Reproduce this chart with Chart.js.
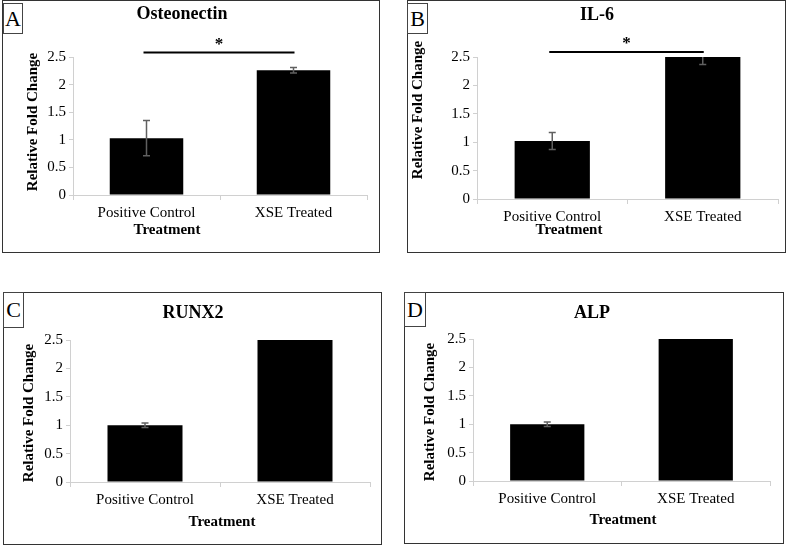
<!DOCTYPE html>
<html lang="en">
<head>
    <meta charset="UTF-8">
    <title>Relative Fold Change</title>
    <script src="https://cdn.jsdelivr.net/npm/chart.js"></script>
    <style>
        body {
            margin: 0;
            padding: 0;
            background: #fff;
            font-family: 'Liberation Serif', serif;
        }
        #page {
            position: relative;
            width: 787px;
            height: 546px;
            overflow: hidden;
        }
        canvas, .frame, .letter {
            position: absolute;
        }
        .frame {
            box-sizing: border-box;
            border: 1px solid #333;
            pointer-events: none;
        }
        .letter {
            box-sizing: border-box;
            border: 1px solid #444;
            background: #fff;
            font-size: 22px;
            line-height: 30px;
            text-align: center;
            color: #000;
        }
    </style>
</head>
<body>
    <div id="page"></div>
    <script>
        const categories = ['Positive Control', 'XSE Treated'];
        const yTickLabels = ['0', '0.5', '1', '1.5', '2', '2.5'];

        const osteonectinMeans = [1.03, 2.26];
        const osteonectinErrors = [0.32, 0.05];
        const il6Means = [1.02, 2.5];
        const il6Errors = [0.15, 0.13];
        const runx2Means = [1.0, 2.5];
        const runx2Errors = [0.04, 0];
        const alpMeans = [1.0, 2.5];
        const alpErrors = [0.04, 0];

        const SERIF = "'Liberation Serif', 'Times New Roman', serif";

        // box = [left, top, width, height] on the page, plot = [left, top, right, bottom] inside the box
        const panels = [
            { letter: 'A', title: 'Osteonectin', means: osteonectinMeans, errors: osteonectinErrors, sig: 2.58,
              box: [2, 0, 378, 253], plot: [71, 57, 365, 195], titleAt: [180, 14], yTitleAt: [31, 122], xTitleAt: [165, 230], letterAt: [1, 3, 20, 31] },
            { letter: 'B', title: 'IL-6', means: il6Means, errors: il6Errors, sig: 2.59,
              box: [407, 0, 379, 253], plot: [70, 57, 371, 199], titleAt: [190, 15], yTitleAt: [11, 110], xTitleAt: [162, 230], letterAt: [0, 3, 21, 31] },
            { letter: 'C', title: 'RUNX2', means: runx2Means, errors: runx2Errors, sig: null,
              box: [3, 292, 379, 253], plot: [67, 48, 367, 190], titleAt: [190, 21], yTitleAt: [26, 121], xTitleAt: [219, 230], letterAt: [0, 0, 21, 36] },
            { letter: 'D', title: 'ALP', means: alpMeans, errors: alpErrors, sig: null,
              box: [404, 292, 380, 252], plot: [69, 47, 366, 189], titleAt: [188, 21], yTitleAt: [26, 120], xTitleAt: [219, 228], letterAt: [0, 0, 22, 35] }
        ];

        Chart.defaults.font.family = SERIF;
        Chart.defaults.color = '#000';

        // titles drawn at fixed spots, like the original figure
        const panelText = {
            id: 'panelText',
            afterDraw(chart, args, opts) {
                const ctx = chart.ctx;
                ctx.save();
                ctx.fillStyle = '#000';
                ctx.textAlign = 'center';
                ctx.textBaseline = 'middle';
                ctx.font = 'bold 18px ' + SERIF;
                ctx.fillText(opts.title, opts.titleAt[0], opts.titleAt[1]);
                ctx.font = 'bold 15px ' + SERIF;
                ctx.fillText('Treatment', opts.xTitleAt[0], opts.xTitleAt[1]);
                ctx.translate(opts.yTitleAt[0], opts.yTitleAt[1]);
                ctx.rotate(-Math.PI / 2);
                ctx.fillText('Relative Fold Change', 0, 0);
                ctx.restore();
            }
        };

        const errorBars = {
            id: 'errorBars',
            afterDatasetsDraw(chart, args, opts) {
                const ctx = chart.ctx;
                const y = chart.scales.y;
                const area = chart.chartArea;
                const meta = chart.getDatasetMeta(0);
                const means = chart.data.datasets[0].data;
                ctx.save();
                ctx.beginPath();
                ctx.rect(area.left, area.top, area.right - area.left, area.bottom - area.top);
                ctx.clip();
                ctx.strokeStyle = '#606060';
                ctx.lineWidth = 1.5;
                meta.data.forEach((bar, i) => {
                    const e = opts.errors[i];
                    if (!e) return;
                    const hi = y.getPixelForValue(means[i] + e);
                    const lo = y.getPixelForValue(means[i] - e);
                    ctx.beginPath();
                    ctx.moveTo(bar.x, hi);
                    ctx.lineTo(bar.x, lo);
                    ctx.moveTo(bar.x - 3.5, hi);
                    ctx.lineTo(bar.x + 3.5, hi);
                    ctx.moveTo(bar.x - 3.5, lo);
                    ctx.lineTo(bar.x + 3.5, lo);
                    ctx.stroke();
                });
                ctx.restore();
            }
        };

        const sigLine = {
            id: 'sigLine',
            afterDraw(chart, args, opts) {
                if (opts.level == null) return;
                const ctx = chart.ctx;
                const meta = chart.getDatasetMeta(0);
                const yy = chart.scales.y.getPixelForValue(opts.level);
                const x0 = meta.data[0].x - 3;
                const x1 = meta.data[1].x + 1;
                ctx.save();
                ctx.strokeStyle = '#000';
                ctx.lineWidth = 2;
                ctx.beginPath();
                ctx.moveTo(x0, yy);
                ctx.lineTo(x1, yy);
                ctx.stroke();
                ctx.fillStyle = '#000';
                ctx.textAlign = 'center';
                ctx.textBaseline = 'middle';
                ctx.font = 'bold 17px ' + SERIF;
                ctx.fillText('*', (x0 + x1) / 2, yy - 8);
                ctx.restore();
            }
        };

        const page = document.getElementById('page');

        panels.forEach(p => {
            const [left, top, w, h] = p.box;
            const [pl, pt, pr, pb] = p.plot;

            const canvas = document.createElement('canvas');
            canvas.width = w;
            canvas.height = h;
            canvas.style.left = left + 'px';
            canvas.style.top = top + 'px';
            canvas.style.width = w + 'px';
            canvas.style.height = h + 'px';
            page.appendChild(canvas);

            const frame = document.createElement('div');
            frame.className = 'frame';
            frame.style.left = left + 'px';
            frame.style.top = top + 'px';
            frame.style.width = w + 'px';
            frame.style.height = h + 'px';
            page.appendChild(frame);

            const letter = document.createElement('div');
            letter.className = 'letter';
            letter.textContent = p.letter;
            letter.style.left = (left + p.letterAt[0]) + 'px';
            letter.style.top = (top + p.letterAt[1]) + 'px';
            letter.style.width = p.letterAt[2] + 'px';
            letter.style.height = p.letterAt[3] + 'px';
            letter.style.lineHeight = (p.letterAt[3] - 2) + 'px';
            page.appendChild(letter);

            new Chart(canvas.getContext('2d'), {
                type: 'bar',
                data: {
                    labels: categories,
                    datasets: [{
                        data: p.means,
                        backgroundColor: '#000',
                        borderWidth: 0,
                        categoryPercentage: 1,
                        barPercentage: 0.5
                    }]
                },
                options: {
                    responsive: false,
                    animation: false,
                    layout: { padding: { top: pt, right: w - pr, left: 0, bottom: 0 } },
                    plugins: {
                        legend: { display: false },
                        tooltip: { enabled: false },
                        panelText: { title: p.title, titleAt: p.titleAt, yTitleAt: p.yTitleAt, xTitleAt: p.xTitleAt },
                        errorBars: { errors: p.errors },
                        sigLine: { level: p.sig }
                    },
                    scales: {
                        x: {
                            afterFit: s => { s.height = h - pb; },
                            grid: { offset: true, drawOnChartArea: false, tickLength: 5, color: '#d0d0d0' },
                            border: { color: '#d0d0d0' },
                            ticks: { font: { family: SERIF, size: 15 }, color: '#000', padding: 4, maxRotation: 0 }
                        },
                        y: {
                            min: 0,
                            max: 2.5,
                            afterFit: s => { s.width = pl; },
                            grid: { drawOnChartArea: false, tickLength: 4, color: '#d0d0d0' },
                            border: { color: '#d0d0d0' },
                            ticks: {
                                stepSize: 0.5,
                                font: { family: SERIF, size: 15 },
                                color: '#000',
                                padding: 3,
                                callback: (v, i) => yTickLabels[i]
                            }
                        }
                    }
                },
                plugins: [panelText, errorBars, sigLine]
            });
        });
    </script>
</body>
</html>
